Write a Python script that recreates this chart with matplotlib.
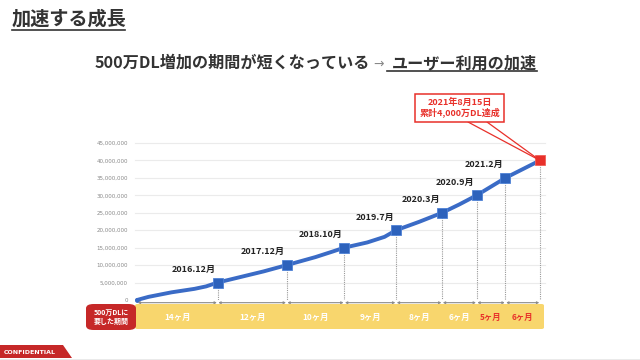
import matplotlib
matplotlib.use('Agg')
import matplotlib.pyplot as plt
from matplotlib import transforms
from matplotlib.patches import FancyBboxPatch, Polygon, Rectangle
from matplotlib.lines import Line2D

plt.rcParams['font.family'] = ['Noto Sans CJK JP', 'DejaVu Sans']

# months counted from 2015.10 (start of the curve)
curve_months = [0, 2, 6, 10, 12, 14, 18, 22, 26, 31, 34, 36, 40, 43, 45,
                49, 53, 56, 59, 61.5, 64, 67, 70]
curve_values = [0, 0.9e6, 2.2e6, 3.2e6, 3.9e6, 5.0e6, 6.6e6, 8.2e6, 10.0e6,
                12.3e6, 13.9e6, 15.0e6, 16.5e6, 18.1e6, 20.0e6, 22.4e6,
                25.0e6, 27.4e6, 30.0e6, 32.5e6, 35.0e6, 37.5e6, 40.0e6]

milestone_labels = ['2016.12月', '2017.12月', '2018.10月', '2019.7月',
                    '2020.3月', '2020.9月', '2021.2月']
milestone_months = [14, 26, 36, 45, 53, 59, 64]
milestone_values = [5e6, 10e6, 15e6, 20e6, 25e6, 30e6, 35e6]

goal_month = 70
goal_value = 40e6
goal_text = '2021年8月15日\n累計4,000万DL達成'

period_labels = ['14ヶ月', '12ヶ月', '10ヶ月', '9ヶ月', '8ヶ月', '6ヶ月', '5ヶ月', '6ヶ月']
period_highlight = [False, False, False, False, False, False, True, True]

yticks = list(range(0, 45000001, 5000000))

W, H = 640, 360
BLUE = '#3A6BC6'
RED = '#E8302A'
DARK = '#333333'


def px(x, y):
    return x / W, 1 - y / H


fig = plt.figure(figsize=(6.4, 3.6), dpi=100)
fig.patch.set_facecolor('white')

ax = fig.add_axes([137 / W, 60 / H, 408 / W, 157 / H])
ax.patch.set_visible(False)
ax.set_xlim(0, 408 / 5.757)
ax.set_ylim(0, 45e6)
for s in ax.spines.values():
    s.set_visible(False)
ax.set_xticks([])
ax.set_yticks(yticks)
ax.set_yticklabels([f'{v:,}' for v in yticks], fontsize=4, color='#888888',
                   family='DejaVu Sans')
ax.tick_params(axis='y', length=0, pad=6.5)
for v in yticks[1:]:
    ax.axhline(v, color='#EBEBEB', lw=0.8, zorder=0, xmin=-0.005, clip_on=False)

# curve
ax.plot(curve_months, curve_values, color=BLUE, lw=2.8, solid_capstyle='round',
        zorder=3, clip_on=False)
ax.plot([0], [0], 'o', color=BLUE, ms=2.5, zorder=3, clip_on=False)
ax.plot(milestone_months, milestone_values, 's', color='#2D62BC', ms=6.5,
        mec='#4F82D6', mew=0.6, zorder=4, clip_on=False)
ax.plot([goal_month], [goal_value], 's', color=RED, ms=7, mec='#F06058',
        mew=0.6, zorder=5, clip_on=False)

# dotted drop lines and duration arrows
all_months = [0] + milestone_months + [goal_month]
all_values = [0] + milestone_values + [goal_value]
blend = transforms.blended_transform_factory(ax.transData, ax.transAxes)
for m, v in zip(all_months[1:], all_values[1:]):
    ax.plot([m, m], [v, 0], color='#999999', lw=0.8, ls=(0, (1, 1)), zorder=2)
for a, b in zip(all_months[:-1], all_months[1:]):
    ax.annotate('', xy=(b, -0.017), xytext=(a, -0.017), xycoords=blend,
                textcoords=blend,
                arrowprops=dict(arrowstyle='<|-|>', color='#8A8A8A', lw=0.8,
                                mutation_scale=3, shrinkA=0.5, shrinkB=0.5),
                annotation_clip=False)

for lab, m, v in zip(milestone_labels, milestone_months, milestone_values):
    ax.annotate(lab, xy=(m, v), xytext=(-1.5, 9.5), textcoords='offset points',
                ha='right', va='center', fontsize=6.5, fontweight='bold',
                color='#222222')

# callout for the 40M point
fig.add_artist(Rectangle(px(415, 122), 89 / W, 28 / H, transform=fig.transFigure,
                         facecolor='white', edgecolor=RED, lw=1.1, zorder=6))
fig.text(459.5 / W, 1 - 108 / H, goal_text, ha='center', va='center',
         fontsize=6.5, fontweight='bold', color=RED, linespacing=1.2, zorder=7)
for xs in (468, 487):
    ax.annotate('', xy=(goal_month, goal_value), xycoords='data',
                xytext=px(xs, 122), textcoords='figure fraction',
                arrowprops=dict(arrowstyle='-', color=RED, lw=0.9,
                                shrinkA=0, shrinkB=0),
                annotation_clip=False, zorder=5)

# duration band (behind the axes so the month labels stay on top)
fig.add_artist(FancyBboxPatch(px(135, 329), 409 / W, 25 / H,
                              boxstyle='round,pad=0,rounding_size=0.004',
                              transform=fig.transFigure, facecolor='#F8D66D',
                              edgecolor='none', zorder=-2))
fig.add_artist(FancyBboxPatch(px(86, 330), 50 / W, 26 / H,
                              boxstyle='round,pad=0,rounding_size=0.012',
                              transform=fig.transFigure, facecolor='#C62828',
                              edgecolor='none', zorder=-1))
fig.text(111 / W, 1 - 317 / H, '500万DLに\n要した期間', ha='center', va='center',
         fontsize=5, fontweight='bold', color='white', linespacing=1.2)
band = transforms.blended_transform_factory(ax.transData, fig.transFigure)
for lab, a, b, hi in zip(period_labels, all_months[:-1], all_months[1:],
                         period_highlight):
    ax.text((a + b) / 2, 1 - 317 / H, lab, transform=band, ha='center',
            va='center', fontsize=6, fontweight='bold',
            color=RED if hi else 'white', clip_on=False)

# titles
fig.text(12 / W, 1 - 19 / H, '加速する成長', ha='left', va='center', fontsize=13.8,
         fontweight='bold', color=DARK)
fig.add_artist(Line2D([12 / W, 125 / W], [1 - 30 / H] * 2, color=DARK, lw=1.2,
                      transform=fig.transFigure))
fig.text(95 / W, 1 - 63 / H, '500万DL増加の期間が短くなっている', ha='left',
         va='center', fontsize=11.6, fontweight='bold', color=DARK)
fig.text(379 / W, 1 - 64 / H, '→', ha='center', va='center', fontsize=9,
         color='#888888', family='DejaVu Sans')
fig.text(392 / W, 1 - 63 / H, 'ユーザー利用の加速', ha='left', va='center',
         fontsize=11.6, fontweight='bold', color=DARK)
fig.add_artist(Line2D([387 / W, 537 / W], [1 - 71 / H] * 2, color=DARK, lw=1.2,
                      transform=fig.transFigure))

# footer
fig.add_artist(Polygon([px(0, 345), px(63, 345), px(72, 358), px(0, 358)],
                       closed=True, transform=fig.transFigure,
                       facecolor='#C62828', edgecolor='none'))
fig.text(4 / W, 1 - 352 / H, 'CONFIDENTIAL', ha='left', va='center', fontsize=4.5,
         fontweight='bold', color='white', family='DejaVu Sans')
fig.add_artist(Line2D([0, 1], [1 - 358.5 / H] * 2, color='#E2E2E2', lw=0.5,
                      transform=fig.transFigure))

fig.savefig('out.png', dpi=100)
